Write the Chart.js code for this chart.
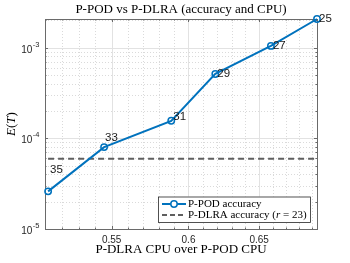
<!DOCTYPE html>
<html><head><meta charset="utf-8">
<script src="https://cdn.jsdelivr.net/npm/chart.js@4"></script>
<style>html,body{margin:0;padding:0;background:#fff}#c{display:block}</style>
</head><body>
<canvas id="c" width="350" height="263"></canvas>
<script>
// ---- data ----
const ranks = ['35', '33', '31', '29', '27', '25'];
const cpuRatio = [0.5118, 0.5453, 0.5884, 0.6185, 0.6587, 0.6940];
const podError = [2.6e-5, 8.0e-5, 1.56e-4, 5.13e-4, 1.045e-3, 2.07e-3];
const dlraError = 5.95e-5;
const xTicks = [0.55, 0.6, 0.65];
const yTicks = [1e-5, 1e-4, 1e-3];
const xLimits = [0.5118, 0.694];
const yLimits = [1e-5, 2.07e-3];
const titleText = 'P-POD vs P-DLRA (accuracy and CPU)';
const xLabelText = 'P-DLRA CPU over P-POD CPU';
const seriesNames = ['P-POD accuracy', 'P-DLRA accuracy'];

// ---- styles (not data) ----
const BLUE = '#0072BD';
const GRAY = '#5f5f5f';
const labelOffsets = [[2, -22], [1, -9], [2, -4], [2, 0], [2, 0], [2, 0]];
const SANS = '"Liberation Sans", Arial, sans-serif';
const SERIF = '"Liberation Serif", "DejaVu Serif", serif';

const decorPlugin = {
  id: 'decor',
  beforeDatasetsDraw(chart) {
    const {ctx, chartArea: a, scales: {x, y}} = chart;
    ctx.save();
    // minor grid (dotted)
    ctx.strokeStyle = '#dadada';
    ctx.lineWidth = 1;
    ctx.setLineDash([1, 2]);
    const minorX = [];
    for (let k = Math.ceil(xLimits[0] * 100); k <= Math.floor(xLimits[1] * 100); k++) {
      const v = k / 100;
      if (!xTicks.some(t => Math.abs(t - v) < 1e-9)) minorX.push(v);
    }
    const minorY = [];
    for (let d = -5; d <= -3; d++) for (let m = 2; m <= 9; m++) {
      const v = m * Math.pow(10, d);
      if (v > yLimits[0] && v < yLimits[1]) minorY.push(v);
    }
    minorX.forEach(v => { const px = Math.round(x.getPixelForValue(v)) + 0.5; ctx.beginPath(); ctx.moveTo(px, a.top); ctx.lineTo(px, a.bottom); ctx.stroke(); });
    minorY.forEach(v => { const py = Math.round(y.getPixelForValue(v)) + 0.5; ctx.beginPath(); ctx.moveTo(a.left, py); ctx.lineTo(a.right, py); ctx.stroke(); });
    // major grid
    ctx.setLineDash([]);
    ctx.strokeStyle = '#e2e2e2';
    xTicks.forEach(v => { const px = Math.round(x.getPixelForValue(v)) + 0.5; ctx.beginPath(); ctx.moveTo(px, a.top); ctx.lineTo(px, a.bottom); ctx.stroke(); });
    yTicks.forEach(v => { const py = Math.round(y.getPixelForValue(v)) + 0.5; ctx.beginPath(); ctx.moveTo(a.left, py); ctx.lineTo(a.right, py); ctx.stroke(); });
    // ticks (inward, all four sides)
    ctx.strokeStyle = '#6a6a6a';
    const tickX = (v, len) => { const px = Math.round(x.getPixelForValue(v)) + 0.5; ctx.beginPath(); ctx.moveTo(px, a.bottom); ctx.lineTo(px, a.bottom - len); ctx.moveTo(px, a.top); ctx.lineTo(px, a.top + len); ctx.stroke(); };
    const tickY = (v, len) => { const py = Math.round(y.getPixelForValue(v)) + 0.5; ctx.beginPath(); ctx.moveTo(a.left, py); ctx.lineTo(a.left + len, py); ctx.moveTo(a.right, py); ctx.lineTo(a.right - len, py); ctx.stroke(); };
    minorX.forEach(v => tickX(v, 1.5)); xTicks.forEach(v => tickX(v, 3));
    minorY.forEach(v => tickY(v, 1.5)); yTicks.forEach(v => tickY(v, 3));
    // box
    ctx.strokeRect(Math.round(a.left) + 0.5, Math.round(a.top) + 0.5, Math.round(a.right - a.left), Math.round(a.bottom - a.top));
    // y tick labels: 10 with superscript exponent, placed by the y scale
    ctx.fillStyle = '#262626';
    ctx.textBaseline = 'alphabetic';
    ctx.textAlign = 'left';
    y.ticks.forEach(t => {
      const py = y.getPixelForValue(t.value);
      const ex = String(Math.round(Math.log10(t.value)));
      ctx.font = '7.5px ' + SANS;
      const we = ctx.measureText(ex).width;
      ctx.font = '10px ' + SANS;
      const wb = ctx.measureText('10').width;
      const right = a.left - 5.5;
      ctx.fillText('10', right - we - wb - 0.5, py + 5);
      ctx.font = '7.5px ' + SANS;
      ctx.fillText(ex, right - we, py - 1);
    });
    ctx.restore();
  },
  afterDatasetsDraw(chart) {
    const {ctx, chartArea: a, scales: {x, y}} = chart;
    ctx.save();
    // point labels
    ctx.fillStyle = '#1a1a1a';
    ctx.font = '11.5px ' + SANS;
    ctx.textAlign = 'left';
    ctx.textBaseline = 'middle';
    ranks.forEach((r, i) => {
      const px = x.getPixelForValue(cpuRatio[i]) + labelOffsets[i][0];
      const py = y.getPixelForValue(podError[i]) + labelOffsets[i][1];
      ctx.fillText(r, px, py);
    });
    // title
    ctx.fillStyle = '#000';
    ctx.textAlign = 'center';
    ctx.font = '13px ' + SERIF;
    ctx.fillText(titleText, (a.left + a.right) / 2, 9.5);
    // x label
    ctx.fillText(xLabelText, (a.left + a.right) / 2, 249.5);
    // y label E(T) rotated
    ctx.save();
    ctx.translate(12, (a.top + a.bottom) / 2);
    ctx.rotate(-Math.PI / 2);
    const parts = [['E', 'italic '], ['(', ''], ['T', 'italic '], [')', '']];
    let w = 0;
    parts.forEach(p => { ctx.font = p[1] + '13px ' + SERIF; w += ctx.measureText(p[0]).width; });
    let cx = -w / 2;
    ctx.textAlign = 'left';
    parts.forEach(p => { ctx.font = p[1] + '13px ' + SERIF; ctx.fillText(p[0], cx, 0); cx += ctx.measureText(p[0]).width; });
    ctx.restore();
    // legend
    const L = {x: 158, y: 196.5, w: 152, h: 25.5};
    ctx.fillStyle = '#fff';
    ctx.fillRect(L.x, L.y, L.w, L.h);
    ctx.strokeStyle = '#262626';
    ctx.lineWidth = 0.8;
    ctx.strokeRect(L.x + 0.5, L.y + 0.5, L.w, L.h);
    const r1 = L.y + 7.5, r2 = L.y + 18.5;
    ctx.lineWidth = 2;
    ctx.strokeStyle = BLUE;
    ctx.beginPath(); ctx.moveTo(L.x + 4, r1); ctx.lineTo(L.x + 28, r1); ctx.stroke();
    ctx.lineWidth = 1.5;
    ctx.fillStyle = '#fff';
    ctx.beginPath(); ctx.arc(L.x + 16, r1, 3.2, 0, Math.PI * 2); ctx.fill(); ctx.stroke();
    ctx.strokeStyle = GRAY; ctx.lineWidth = 2; ctx.setLineDash([5, 3]);
    ctx.beginPath(); ctx.moveTo(L.x + 4, r2); ctx.lineTo(L.x + 28, r2); ctx.stroke();
    ctx.setLineDash([]);
    ctx.fillStyle = '#000';
    ctx.textAlign = 'left';
    ctx.font = '11px ' + SERIF;
    ctx.fillText(seriesNames[0], L.x + 30, r1);
    const seg = [[seriesNames[1] + ' (', ''], ['r', 'italic '], [' = 23)', '']];
    let lx = L.x + 30;
    seg.forEach(s => { ctx.font = s[1] + '11px ' + SERIF; ctx.fillText(s[0], lx, r2); lx += ctx.measureText(s[0]).width; });
    ctx.restore();
  }
};

new Chart(document.getElementById('c'), {
  type: 'line',
  data: {
    datasets: [
      {
        label: seriesNames[0],
        data: cpuRatio.map((v, i) => ({x: v, y: podError[i]})),
        borderColor: BLUE, backgroundColor: 'rgba(0,0,0,0)', borderWidth: 2,
        pointRadius: 3.2, pointBorderWidth: 1.5, pointBackgroundColor: 'rgba(0,0,0,0)', pointBorderColor: BLUE,
        clip: false, tension: 0, order: 1
      },
      {
        label: seriesNames[1],
        data: [{x: xLimits[0], y: dlraError}, {x: xLimits[1], y: dlraError}],
        borderColor: GRAY, borderWidth: 2, borderDash: [6, 4], pointRadius: 0,
        clip: false, tension: 0, order: 2
      }
    ]
  },
  options: {
    responsive: false, animation: false, devicePixelRatio: 1,
    layout: {padding: {left: 0, top: 19, right: 33, bottom: 0}},
    plugins: {legend: {display: false}, title: {display: false}, tooltip: {enabled: false}},
    scales: {
      x: {
        type: 'logarithmic', min: xLimits[0], max: xLimits[1],
        afterBuildTicks: s => { s.ticks = xTicks.map(v => ({value: v})); },
        afterFit: s => { s.height = 34; },
        grid: {display: false, drawTicks: false}, border: {display: false},
        ticks: {font: {family: SANS, size: 10}, color: '#262626', padding: 5,
                maxRotation: 0, autoSkip: false, callback: v => String(v)}
      },
      y: {
        type: 'logarithmic', min: yLimits[0], max: yLimits[1],
        afterBuildTicks: s => { s.ticks = yTicks.map(v => ({value: v})); },
        afterFit: s => { s.width = 45; },
        grid: {display: false, drawTicks: false}, border: {display: false},
        ticks: {display: false}
      }
    }
  },
  plugins: [decorPlugin]
});
</script>
</body></html>
